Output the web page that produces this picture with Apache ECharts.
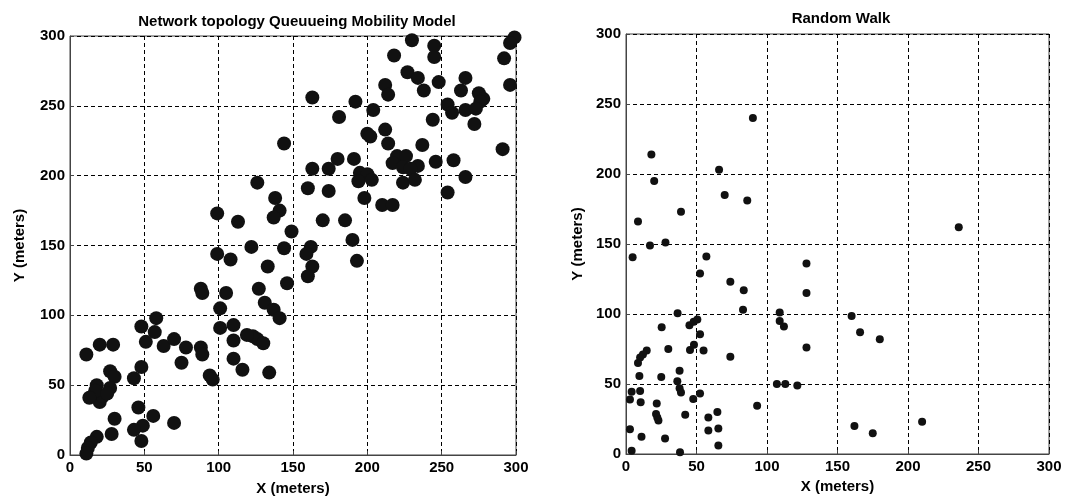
<!DOCTYPE html>
<html>
<head>
<meta charset="utf-8">
<script src="https://cdn.jsdelivr.net/npm/echarts@6/dist/echarts.min.js"></script>
<style>
html, body { margin: 0; padding: 0; background: #fff; }
#chart { width: 1065px; height: 502px; }
</style>
</head>
<body>
<div id="chart"></div>
<script>
// queueing mobility model node positions [x, y] in meters
var queueingNodes = [
  [144,223],[126,195],[138,184],[141,175],[137,170],[99,173],[113,167],[149,160],[122,149],[144,148],[99,144],[108,140],
  [230,297],[245,293],[245,285],[218,286],[299,299],[296,295],[292,284],[296,265],
  [227,274],[234,270],[238,261],[248,267],[266,270],[263,261],[275,259],[278,255],[276,253],
  [254,251],[257,245],[266,247],[273,248],[272,237],[244,240],
  [212,265],[214,258],[192,253],[204,247],[181,242],[163,256],
  [200,230],[202,228],[212,233],[214,223],[237,222],[291,219],
  [220,214],[226,214],[217,209],[224,206],[234,207],[229,205],[224,195],[232,197],
  [246,210],[258,211],[266,199],[254,188],
  [191,212],[180,212],[174,205],[163,205],[195,202],[200,201],[194,196],[203,197],[198,184],[210,179],[217,179],
  [160,191],[174,189],[170,168],[185,168],[190,154],[193,139],[162,149],[159,144],[163,135],[160,128],[146,123],
  [133,135],[127,119],[131,109],[137,104],[141,98],[123,85],[126,83],[130,80],[134,59],[116,61],[110,69],[110,82],
  [88,119],[89,116],[105,116],[101,105],[101,91],[110,93],[119,86],
  [58,98],[48,92],[57,88],[51,81],[63,78],[70,83],[78,77],[75,66],[88,77],[89,72],[94,57],[96,54],
  [11,72],[20,79],[29,79],[27,60],[30,56],[48,63],[43,55],
  [18,50],[27,48],[15,42],[20,38],[22,42],[17,46],[25,44],[13,41],
  [46,34],[30,26],[56,28],[70,23],[49,21],[43,18],[28,15],[48,10],[18,13],[14,9],[12,5],[11,1]
];

// random walk node positions [x, y] in meters
var randomWalkNodes = [
  [90,240],[18,214],[20,195],[66,203],[70,185],[86,181],[39,173],[8.5,166],[17,149],[28,151],[236,162],
  [4.7,140.5],[57,141],[52.5,129],[74,123],[83.5,117],[83,103],[128,136],[128,115],[109,101],[109,95],[112,91],[128,76],
  [107,50],[113,50],[121.5,49],[93,34.5],
  [36.6,100.5],[45,92],[48,94.5],[50.6,96],[52.5,85.5],[25.3,90.5],[30,75],[45.4,74.3],[48.2,78],[55,74],[74,69.5],
  [14.7,74],[12,71],[10,69],[8.5,65],[9.5,55.7],[25,55],[38,59.5],[36.4,52],[38,47],[39,44],[52.5,43.3],[47.7,39.3],
  [4,44.5],[10,45],[2.8,39],[10.4,37],[21.8,36],[21.3,28.6],[22.2,26],[23,24],[42,28],[58.4,26],[64.8,30],
  [58.4,16.7],[65.5,18.3],[65.5,6],[2.8,17.6],[11,12.4],[27.7,11],[4,2.4],[38.3,1.2],
  [160,98.6],[166,87],[180,82],[162,20],[175,14.8],[210,23]
];

var titles = ['Network topology Queuueing Mobility Model', 'Random Walk'];
var xName = 'X (meters)';
var yName = 'Y (meters)';

var fontFam = '"Liberation Sans Narrow", "Liberation Sans", Arial, sans-serif';

function makeAxis(gridIndex, name, gap) {
  return {
    gridIndex: gridIndex,
    type: 'value',
    min: 0,
    max: 300,
    interval: 50,
    name: name,
    nameLocation: 'middle',
    nameGap: gap,
    nameTextStyle: { color: '#000', fontWeight: 'bold', fontSize: 15, fontFamily: fontFam },
    axisLine: { show: true, lineStyle: { color: '#444', width: 1 } },
    axisTick: { show: true, inside: true, length: 4, lineStyle: { color: '#444' } },
    axisLabel: { color: '#000', fontWeight: 'bold', fontSize: 15, fontFamily: fontFam, margin: 5 },
    splitLine: { show: true, lineStyle: { color: '#000', type: [4, 3], width: 1 } }
  };
}

var myChart = echarts.init(document.getElementById('chart'));

var option = {
  animation: false,
  backgroundColor: '#fff',
  title: [
    {
      text: titles[0], left: 292, top: 9, textAlign: 'center',
      textStyle: { color: '#000', fontWeight: 'bold', fontSize: 15, fontFamily: fontFam }
    },
    {
      text: titles[1], left: 836, top: 6, textAlign: 'center',
      textStyle: { color: '#000', fontWeight: 'bold', fontSize: 15, fontFamily: fontFam }
    }
  ],
  grid: [
    { left: 70, top: 36, width: 446, height: 419, show: true, borderColor: '#444', borderWidth: 1 },
    { left: 626, top: 34, width: 423, height: 420, show: true, borderColor: '#444', borderWidth: 1 }
  ],
  xAxis: [makeAxis(0, xName, 26), makeAxis(1, xName, 20)],
  yAxis: [makeAxis(0, yName, 43), makeAxis(1, yName, 41)],
  series: [
    {
      type: 'scatter', xAxisIndex: 0, yAxisIndex: 0,
      symbolSize: 14,
      itemStyle: { color: '#111', opacity: 1 },
      data: queueingNodes
    },
    {
      type: 'scatter', xAxisIndex: 1, yAxisIndex: 1,
      symbolSize: 8,
      itemStyle: { color: '#111', opacity: 1 },
      data: randomWalkNodes
    }
  ]
};

option && myChart.setOption(option);
</script>
</body>
</html>
